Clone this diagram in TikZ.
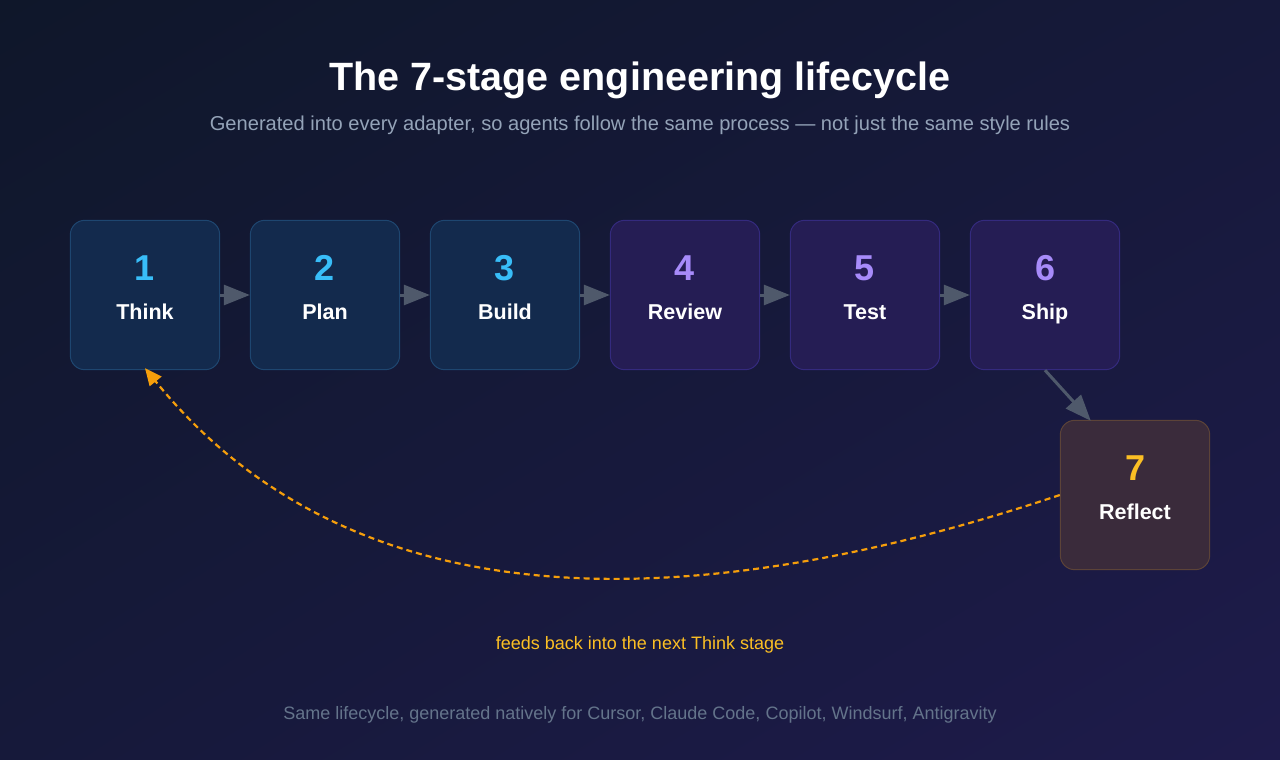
\documentclass[tikz,border=0pt]{standalone}
\usepackage{fontspec}
\setmainfont{Liberation Sans}
\usetikzlibrary{arrows.meta,calc,shadings}
\definecolor{bgTL}{HTML}{0F172A}
\definecolor{bgBR}{HTML}{1E1B4B}
\definecolor{bgMid}{HTML}{16193A}
\definecolor{blueFill}{HTML}{132A4D}
\definecolor{blueLine}{HTML}{1E4670}
\definecolor{blueNum}{HTML}{38BDF8}
\definecolor{purFill}{HTML}{251D54}
\definecolor{purLine}{HTML}{342A7E}
\definecolor{purNum}{HTML}{A78BFA}
\definecolor{ambFill}{HTML}{3A2B3B}
\definecolor{ambLine}{HTML}{5C4338}
\definecolor{ambNum}{HTML}{FBBF24}
\definecolor{ambLoop}{HTML}{F59E0B}
\definecolor{arrGrey}{HTML}{4F596B}
\definecolor{subGrey}{HTML}{94A3B8}
\definecolor{footGrey}{HTML}{64748B}
\tikzset{
  stagebox/.style={rectangle, minimum width=150pt, minimum height=150pt, inner sep=0pt},
  boxpath/.style={line width=1pt},
  bluepath/.style={boxpath, fill=blueFill, draw=blueLine},
  purpath/.style={boxpath, fill=purFill, draw=purLine},
  ambpath/.style={boxpath, fill=ambFill, draw=ambLine},
  numtext/.style={anchor=base, inner sep=0pt, font=\fontsize{36}{36}\selectfont\bfseries},
  labtext/.style={anchor=base, inner sep=0pt, text=white, font=\fontsize{21.5}{21.5}\selectfont\bfseries},
  flow/.style={draw=arrGrey, line width=3pt, -{Triangle[length=26pt,width=20pt]}},
  loop/.style={draw=ambLoop, line width=2.2pt, dash pattern=on 6pt off 4pt, -{Triangle[length=17pt,width=15pt]}},
}
\newcommand\roundbox[2]{%
  \path[#2] ($(#1.north west)+(0.5,15)$) .. controls ($(#1.north west)+(0.5,7)$) and ($(#1.north west)+(7,0.5)$) .. ($(#1.north west)+(15,0.5)$)
   -- ($(#1.north east)+(-15,0.5)$) .. controls ($(#1.north east)+(-7,0.5)$) and ($(#1.north east)+(-0.5,7)$) .. ($(#1.north east)+(-0.5,15)$)
   -- ($(#1.south east)+(-0.5,-15)$) .. controls ($(#1.south east)+(-0.5,-7)$) and ($(#1.south east)+(-7,-0.5)$) .. ($(#1.south east)+(-15,-0.5)$)
   -- ($(#1.south west)+(15,-0.5)$) .. controls ($(#1.south west)+(7,-0.5)$) and ($(#1.south west)+(0.5,-7)$) .. ($(#1.south west)+(0.5,-15)$)
   -- cycle;}
\begin{document}
\begin{tikzpicture}[x=1pt,y=-1pt]
\useasboundingbox (0,0) rectangle (1280,760);
\shade[upper left=bgTL, upper right=bgMid, lower left=bgMid, lower right=bgBR] (0,0) rectangle (1280,760);

\node[anchor=base, text=white, font=\fontsize{39.5}{39.5}\selectfont\bfseries] (title) at (640,90) {The 7-stage engineering lifecycle};
\node[anchor=base, text=subGrey, font=\fontsize{20.1}{20.1}\selectfont] (subtitle) at (640,130) {Generated into every adapter, so agents follow the same process — not just the same style rules};

\foreach \i/\x/\st/\col/\lab in {1/145/bluepath/blueNum/Think, 2/325/bluepath/blueNum/Plan, 3/505/bluepath/blueNum/Build, 4/685/purpath/purNum/Review, 5/865/purpath/purNum/Test, 6/1045/purpath/purNum/Ship} {
  \node[stagebox] (n\i) at (\x,295) {};
  \roundbox{n\i}{\st}
  \node[numtext, text=\col] (n\i num) at (\x,280) {\i};
  \node[labtext] (n\i lab) at (\x,319.5) {\lab};
}
\node[stagebox] (n7) at (1135,495) {};
\roundbox{n7}{ambpath}
\node[numtext, text=ambNum] (n7num) at (1135,480) {7};
\node[labtext] (n7lab) at (1135,519.5) {Reflect};

\draw[flow] (n1.east) -- (n2.west);
\draw[flow] (n2.east) -- (n3.west);
\draw[flow] (n3.east) -- (n4.west);
\draw[flow] (n4.east) -- (n5.west);
\draw[flow] (n5.east) -- (n6.west);
\draw[flow] (n6.south) -- ($(n7.north west)+(31,1)$);

\draw[loop] (n7.west) .. controls (633,638) and (330,597) .. ($(n1.south)+(0,-2)$);

\node[anchor=base, text=ambNum, font=\fontsize{18}{18}\selectfont] (feed) at (640,649) {feeds back into the next Think stage};
\node[anchor=base, text=footGrey, font=\fontsize{18}{18}\selectfont] (foot) at (640,719) {Same lifecycle, generated natively for Cursor, Claude Code, Copilot, Windsurf, Antigravity};
\end{tikzpicture}
\end{document}
